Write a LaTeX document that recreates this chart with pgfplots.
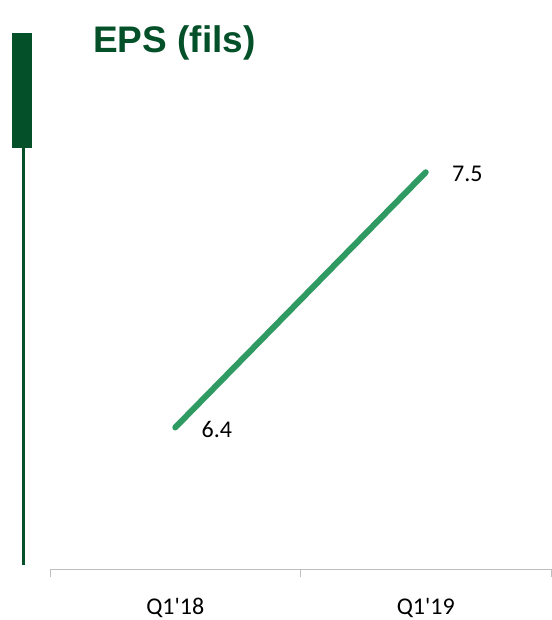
\documentclass[border=0pt]{standalone}
\usepackage{pgfplots}
\pgfplotsset{compat=1.18}
\usepackage{fontspec}
\setmainfont{Carlito}
\newfontfamily\titlefont{Liberation Sans}
\definecolor{darkgreen}{RGB}{4,80,40}
\definecolor{linegreen}{RGB}{47,155,99}
\definecolor{axisgray}{RGB}{191,191,191}
\begin{document}
\begin{tikzpicture}[x=1pt,y=1pt]
\fill[darkgreen] (12,472) rectangle (32,587);
\fill[darkgreen] (22,55) rectangle (25,472);
\node[anchor=base west, inner sep=0pt, text=darkgreen, font=\titlefont\bfseries\fontsize{37}{40}\selectfont] at (93,567) {EPS (fils)};
\begin{axis}[
  at={(50pt,51pt)}, anchor=south west,
  scale only axis, width=501pt, height=529pt,
  xmin=-0.5, xmax=1.5, ymin=5.79, ymax=8.07,
  axis y line=none, axis x line*=bottom,
  axis line style={axisgray, line width=0.8pt, -},
  xtick={-0.5,0.5,1.5}, xticklabels={Q1\textquotesingle18,Q1\textquotesingle19},
  x tick label as interval,
  tick align=outside, major tick length=8pt,
  tick style={axisgray, line width=0.8pt},
  xticklabel style={font=\fontsize{24}{26}\selectfont, text=black, yshift=-18pt},
  /pgf/number format/assume math mode=true,
  nodes near coords,
  every node near coord/.append style={font=\fontsize{24}{26}\selectfont, text=black, anchor=west, xshift=20pt, yshift=-2pt},
  clip=false,
]
\addplot[linegreen, line width=6pt, line cap=round, mark=none] coordinates {(0,6.4) (1,7.5)};
\end{axis}
\pgfresetboundingbox
\path (0,0) rectangle (551,620);
\end{tikzpicture}
\end{document}
